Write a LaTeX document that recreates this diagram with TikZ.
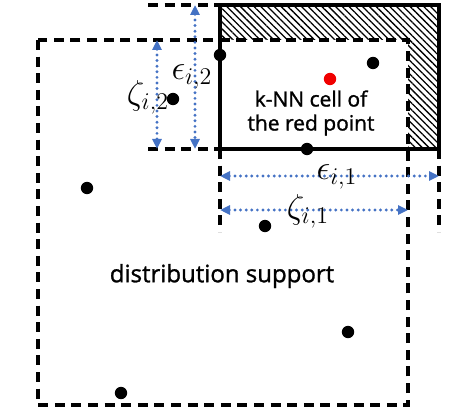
\documentclass[tikz,border=0pt]{standalone}
\usepackage{fontspec}
\setmainfont[FakeBold=1.2]{Open Sans}
\usetikzlibrary{arrows.meta,patterns.meta}
\definecolor{dimc}{RGB}{68,114,196}
\definecolor{redpt}{RGB}{240,0,0}
\tikzset{bound/.style={line width=1.7pt,dash pattern=on 5pt off 3.3pt},
 cell/.style={line width=1.7pt},
 hatch/.style={pattern={Lines[angle=-45,distance=2.4pt,line width=.65pt]}},
 dim/.style={dimc,line width=1.6pt,line cap=round,dash pattern=on 0pt off 2.8pt,{Triangle[length=5pt,width=4.5pt,line cap=butt]}-{Triangle[length=5pt,width=4.5pt,line cap=butt]}},
 pt/.style={circle,fill=black,inner sep=0pt,minimum size=6.2pt},
 lab/.style={font=\fontsize{17}{19}\selectfont,inner sep=0pt},
 txt/.style={font=\fontsize{10.5}{12}\selectfont,align=center}}
\begin{document}
\begin{tikzpicture}[x=0.5pt,y=-0.5pt]
\useasboundingbox (0,0) rectangle (459,411);
% support and cell corners
\coordinate (sNW) at (38,40);
\coordinate (sSE) at (408,405);
\coordinate (cNW) at (220,5);
\coordinate (cSE) at (439,149);
% part of the cell outside the support
\fill[hatch] (220,5) -| (439,149) -- (408,149) |- (220,40) -- cycle;
\draw[bound] (sNW) rectangle (sSE);
\draw[cell] (cNW) rectangle (cSE);
% extension lines
\coordinate (tL) at (148,5);
\coordinate (bL) at (148,149);
\coordinate (cSW) at (220,149);
\coordinate (lD) at (220,232);
\coordinate (rD) at (439,232);
\draw[bound] (tL) -- (cNW);
\draw[bound] (bL) -- (cSW);
\draw[bound] (cSW) -- (lD);
\draw[bound] (cSE) -- (rD);
% side lengths
\coordinate (z2t) at (157,40);
\coordinate (z2b) at (157,149);
\coordinate (e2t) at (195,5);
\coordinate (e2b) at (195,149);
\coordinate (e1l) at (220,176);
\coordinate (e1r) at (439,176);
\coordinate (z1l) at (220,210);
\coordinate (z1r) at (408,210);
\draw[dim] (z2t) -- (z2b);
\draw[dim] (e2t) -- (e2b);
\draw[dim] (e1l) -- (e1r);
\draw[dim] (z1l) -- (z1r);
\node[lab] (le2) at (192,77) {$\epsilon_{i,2}$};
\node[lab] (lz2) at (148,97) {$\zeta_{i,2}$};
\node[lab] (le1) at (337,177) {$\epsilon_{i,1}$};
\node[lab] (lz1) at (308,211) {$\zeta_{i,1}$};
% samples
\node[pt] (p1) at (220,55) {};
\node[pt] (p2) at (173,99) {};
\node[pt] (p3) at (373,63) {};
\node[pt] (p4) at (307,149) {};
\node[pt] (p5) at (87,188) {};
\node[pt] (p6) at (265,226) {};
\node[pt] (p7) at (348,332) {};
\node[pt] (p8) at (121,393) {};
\node[pt,fill=redpt] (red) at (330,79) {};
\node[txt] (knn) at (311,113) {k-NN cell of\\the red point};
\node[txt,font=\fontsize{12}{14}\selectfont] (supp) at (222,276) {distribution support};
\end{tikzpicture}
\end{document}
